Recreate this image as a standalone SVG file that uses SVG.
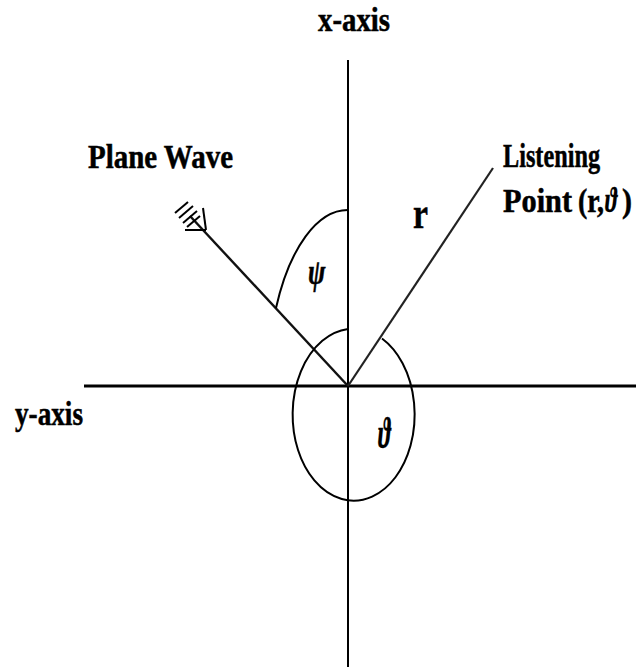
<svg xmlns="http://www.w3.org/2000/svg" width="636" height="667" viewBox="0 0 636 667">
<style>
.lbl{font-family:"Liberation Serif","Times New Roman",serif;font-weight:bold;fill:#000;font-size:26px;stroke:#000;stroke-width:0.4;}
.ax{stroke:#000;fill:none;}
.ln{stroke:#111;fill:none;stroke-width:2.4;}
.arc{stroke:#000;fill:none;stroke-width:2;}
</style>
<rect width="636" height="667" fill="#fff"/>
<g id="axes">
  <line class="ax" x1="348" y1="60" x2="348" y2="667" stroke-width="2"/>
  <line class="ax" x1="84" y1="386" x2="636" y2="386" stroke-width="3"/>
</g>
<g id="connectors">
  <line id="plane-wave-line" class="ln" x1="348" y1="386" x2="190" y2="216"/>
  <line id="r-line" x1="348" y1="386" x2="493" y2="168" stroke="#222" stroke-width="2.2"/>
  <path id="psi-arc" class="arc" d="M348,210 A80,176 0 0 0 276,308"/>
  <path id="theta-arc" class="arc" d="M382,338.5 A61,86 0 1 1 348,329"/>
</g>
<g id="wave-symbol" stroke="#000" stroke-width="2" fill="none">
  <line x1="206" y1="230" x2="185" y2="230"/>
  <line x1="206" y1="230" x2="203" y2="208"/>
  <line x1="175" y1="213" x2="188" y2="202"/>
  <line x1="179" y1="218" x2="193" y2="206"/>
  <line x1="183" y1="223" x2="197" y2="211"/>
  <line x1="187" y1="227" x2="200" y2="216"/>
</g>
<g id="x-axis-label"><text class="lbl" transform="translate(318,31) scale(1,1.32)" textLength="72" lengthAdjust="spacingAndGlyphs">x-axis</text></g>
<g id="y-axis-label"><text class="lbl" transform="translate(15,425) scale(1,1.32)" textLength="68" lengthAdjust="spacingAndGlyphs">y-axis</text></g>
<g id="plane-wave-label"><text class="lbl" transform="translate(88,168) scale(1,1.32)" textLength="145" lengthAdjust="spacingAndGlyphs">Plane Wave</text></g>
<g id="listening-point-label">
  <text class="lbl" transform="translate(503,167) scale(1,1.32)" textLength="97" lengthAdjust="spacingAndGlyphs">Listening</text>
  <text class="lbl" transform="translate(503,212) scale(1,1.32)" textLength="69" lengthAdjust="spacingAndGlyphs">Point</text>
  <text class="lbl" transform="translate(578,212) scale(1,1.32)" textLength="26" lengthAdjust="spacingAndGlyphs">(r,</text>
  <text class="lbl" transform="translate(605,212) scale(0.85,1.3)" font-style="italic" font-weight="normal" style="font-size:27px;stroke-width:0.2">ϑ</text>
  <text class="lbl" transform="translate(622,212) scale(1,1.32)" textLength="10" lengthAdjust="spacingAndGlyphs">)</text>
</g>
<g id="r-label"><text class="lbl" transform="translate(413,228) scale(1,1.32)" style="font-size:34px" textLength="15" lengthAdjust="spacingAndGlyphs">r</text></g>
<g id="psi-label"><text class="lbl" transform="translate(308,284) scale(1,1.35)" style="font-size:26px" font-style="italic">ψ</text></g>
<g id="theta-label"><text class="lbl" font-style="italic" font-weight="normal" style="font-size:30px;stroke-width:0.2" transform="translate(378,448) scale(0.8,1.5)">ϑ</text></g>
</svg>
